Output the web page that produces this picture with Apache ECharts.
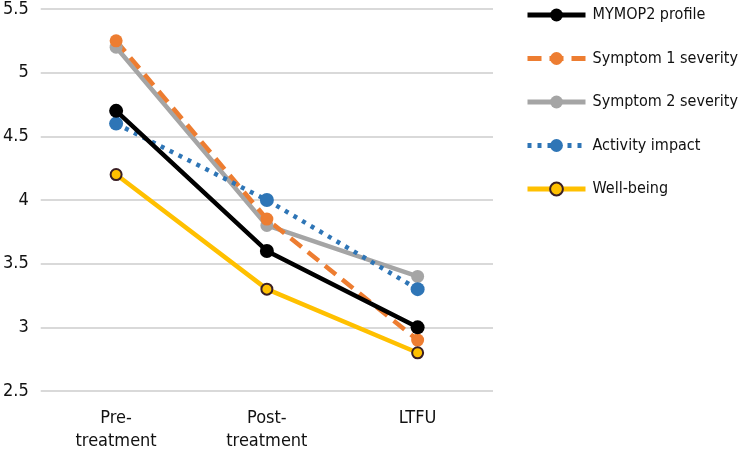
<!DOCTYPE html>
<html><head><meta charset="utf-8">
<script src="https://cdn.jsdelivr.net/npm/echarts@6/dist/echarts.min.js"></script>
<style>html,body{margin:0;padding:0;background:#fff}#c{width:740px;height:455px}</style>
</head><body><div id="c"></div>
<script>
const categories = ["Pre-\ntreatment", "Post-\ntreatment", "LTFU"];
const mymop2 = [4.7, 3.6, 3.0];
const symptom1 = [5.25, 3.85, 2.9];
const symptom2 = [5.2, 3.8, 3.4];
const activity = [4.6, 4.0, 3.3];
const wellbeing = [4.2, 3.3, 2.8];
const seriesNames = ["MYMOP2 profile", "Symptom 1 severity", "Symptom 2 severity", "Activity impact", "Well-being"];

const FONT = '"Liberation Sans Narrow", "DejaVu Sans Condensed", "Roboto", sans-serif';
const chart = echarts.init(document.getElementById('c'), null, {renderer: 'canvas'});
function mk(name, data, color, lineType, width, sym, extra) {
  return Object.assign({
    name, type: 'line', data,
    symbol: 'circle', symbolSize: sym,
    lineStyle: {color, width, type: lineType},
    itemStyle: {color},
    z: 2
  }, extra || {});
}
chart.setOption({
  animation: false,
  textStyle: {fontFamily: FONT},
  grid: {left: 36, right: 247, top: 6, bottom: 64},
  legend: {
    orient: 'vertical', left: 525, top: 7, itemGap: 27.5, padding: 0,
    itemWidth: 58, itemHeight: 16,
    lineStyle: {width: 5},
    textStyle: {fontFamily: FONT, fontSize: 16, color: '#111', padding: [0,0,0,2]},
    data: seriesNames
  },
  xAxis: {
    type: 'category', data: categories, boundaryGap: true,
    axisLine: {show: false}, axisTick: {show: false},
    axisLabel: {fontFamily: FONT, fontSize: 18, color: '#111', margin: 16, lineHeight: 23}
  },
  yAxis: {
    type: 'value', min: 2.5, max: 5.5, interval: 0.5,
    axisLine: {show: false}, axisTick: {show: false},
    axisLabel: {fontFamily: FONT, fontSize: 18, color: '#111', margin: 12},
    splitLine: {lineStyle: {color: '#d9d9d9', width: 2}}
  },
  series: [
    mk(seriesNames[2], symptom2, '#a5a5a5', 'solid', 4.5, 13),
    mk(seriesNames[1], symptom1, '#ed7d31', [14, 8], 4.5, 13),
    mk(seriesNames[3], activity, '#2e75b6', [4, 6], 4.5, 14),
    mk(seriesNames[0], mymop2, '#000000', 'solid', 4.5, 14),
    mk(seriesNames[4], wellbeing, '#ffc000', 'solid', 4.5, 11, {itemStyle: {color: '#ffc000', borderColor: '#3a1f24', borderWidth: 2}})
  ]
});
</script></body></html>
